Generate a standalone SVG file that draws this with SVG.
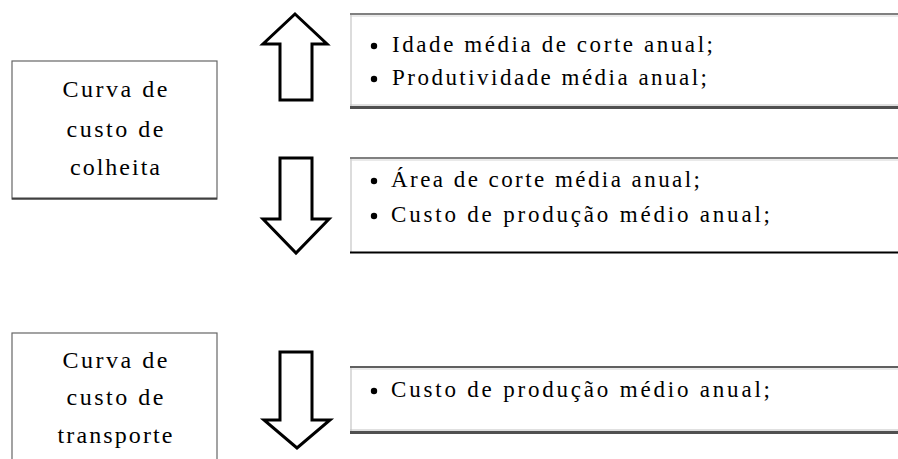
<svg xmlns="http://www.w3.org/2000/svg" width="898" height="459" viewBox="0 0 898 459">
<style>
text{font-family:"Liberation Serif","Times New Roman",serif;fill:#000}
.lt{font-size:24px;text-anchor:middle}
.rt{font-size:23px}
.arrow{fill:#fff;stroke:#000;stroke-width:3;stroke-linejoin:miter}
.lbox{fill:#fff;stroke:#666;stroke-width:1.2}
.edgeTop{stroke:#808080;stroke-width:2}
.edgeTopL{stroke:#d4d4d4;stroke-width:1}
.edgeBot{stroke:#505050;stroke-width:3}
.edgeBotL{stroke:#c0c0c0;stroke-width:1}
.edgeLeft{stroke:#dcdcdc;stroke-width:2}
</style>
<rect width="898" height="459" fill="#fff"/>
<g id="node-colheita">
<rect class="lbox" x="12" y="61" width="205" height="138"/>
<line x1="12" y1="198.5" x2="217" y2="198.5" stroke="#404040" stroke-width="2"/>
<text class="lt" x="115" y="97" textLength="105" lengthAdjust="spacing">Curva de</text>
<text class="lt" x="115" y="137" textLength="97" lengthAdjust="spacing">custo de</text>
<text class="lt" x="115" y="175" textLength="90" lengthAdjust="spacing">colheita</text>
</g>
<g id="node-transporte">
<rect class="lbox" x="12" y="333" width="205" height="130"/>
<text class="lt" x="115" y="368" textLength="105" lengthAdjust="spacing">Curva de</text>
<text class="lt" x="115" y="405" textLength="97" lengthAdjust="spacing">custo de</text>
<text class="lt" x="115" y="443" textLength="115" lengthAdjust="spacing">transporte</text>
</g>
<g id="node-aumenta">
<rect x="350" y="14" width="560" height="94" fill="#fff"/>
<line class="edgeLeft" x1="351" y1="14" x2="351" y2="107"/>
<line class="edgeTop" x1="350" y1="14" x2="898" y2="14"/>
<line class="edgeTopL" x1="350" y1="16" x2="898" y2="16"/>
<line class="edgeBotL" x1="350" y1="105" x2="898" y2="105"/>
<line class="edgeBot" x1="350" y1="107.5" x2="898" y2="107.5"/>
<circle cx="374" cy="46" r="3.2"/>
<text class="rt" x="392" y="52" textLength="321" lengthAdjust="spacing">Idade média de corte anual;</text>
<circle cx="374" cy="79" r="3.2"/>
<text class="rt" x="392" y="85" textLength="315" lengthAdjust="spacing">Produtividade média anual;</text>
</g>
<g id="node-diminui">
<rect x="350" y="158" width="560" height="95" fill="#fff"/>
<line class="edgeLeft" x1="351" y1="158" x2="351" y2="252"/>
<line class="edgeTop" x1="350" y1="158" x2="898" y2="158"/>
<line class="edgeTopL" x1="350" y1="160" x2="898" y2="160"/>
<line x1="350" y1="252.5" x2="898" y2="252.5" stroke="#000" stroke-width="2"/>
<circle cx="374" cy="181" r="3.2"/>
<text class="rt" x="391" y="187" textLength="309" lengthAdjust="spacing">Área de corte média anual;</text>
<circle cx="374" cy="216" r="3.2"/>
<text class="rt" x="391" y="222" textLength="379" lengthAdjust="spacing">Custo de produção médio anual;</text>
</g>
<g id="node-transp-efeito">
<rect x="350" y="367" width="560" height="66" fill="#fff"/>
<line class="edgeLeft" x1="351" y1="367" x2="351" y2="432"/>
<line x1="350" y1="367" x2="898" y2="367" stroke="#606060" stroke-width="2"/>
<line class="edgeTopL" x1="350" y1="369" x2="898" y2="369"/>
<line class="edgeBotL" x1="350" y1="430" x2="898" y2="430"/>
<line class="edgeBot" x1="350" y1="432.5" x2="898" y2="432.5"/>
<circle cx="374" cy="391" r="3.2"/>
<text class="rt" x="391" y="397" textLength="379" lengthAdjust="spacing">Custo de produção médio anual;</text>
</g>
<g id="connectors">
<polygon class="arrow" points="295,14 327,44 312,44 312,100 280,100 280,44 263,44"/>
<polygon class="arrow" points="280,158 312,158 312,219 329,219 296,253 263,219 280,219"/>
<polygon class="arrow" points="280,352 312,352 312,420 330,420 297,448 264,420 280,420"/>
</g>
</svg>
